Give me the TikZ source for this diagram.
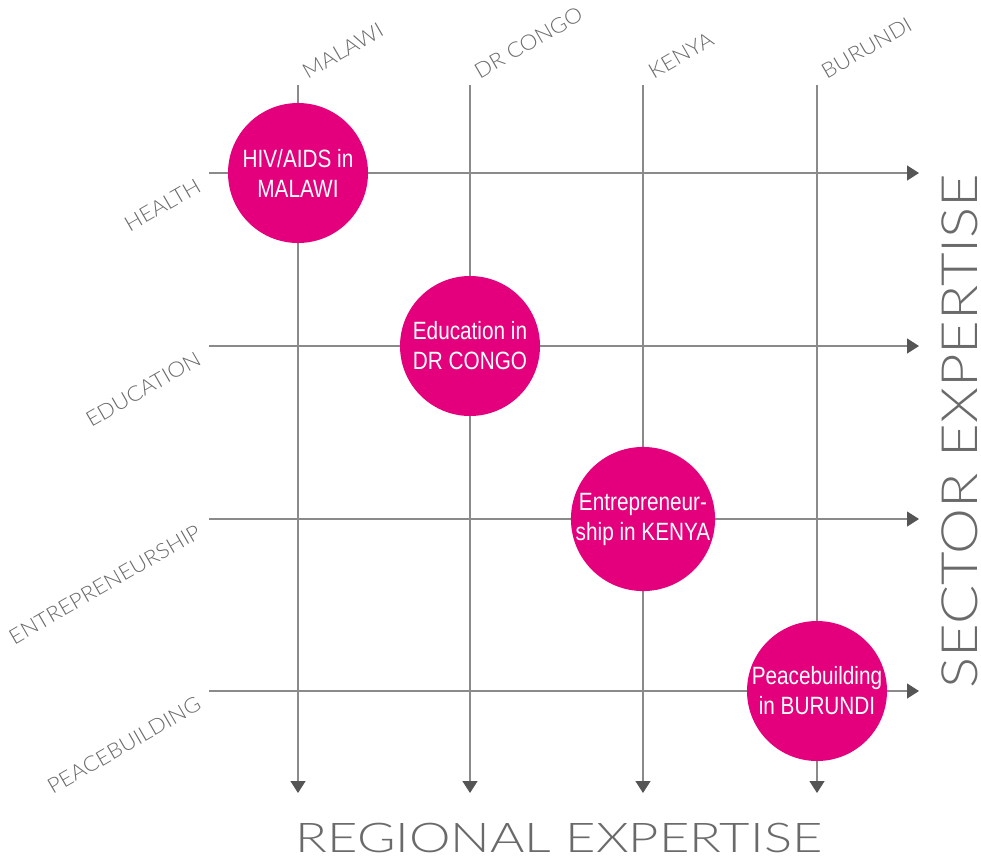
\documentclass[tikz,border=0pt]{standalone}
\usepackage{fontspec}
\setmainfont{Liberation Sans}
\newfontfamily\circfont{Liberation Sans}[FakeStretch=0.83]
\newfontfamily\thinfont{Lato}[UprightFont={* Light},FakeStretch=1.07]
\newfontfamily\regfont{Lato}[UprightFont={* Light},FakeStretch=1.28]
\newfontfamily\secfont{Lato}[UprightFont={* Light},FakeStretch=1.16]
\usetikzlibrary{arrows.meta}
\definecolor{magentab}{HTML}{E4007C}
\definecolor{linegray}{HTML}{8A8A8A}
\definecolor{tipgray}{HTML}{555555}
\definecolor{labelgray}{HTML}{6A6A6A}
\tikzset{
  gridline/.style={draw=linegray, line width=1.3pt, -{Triangle[length=12pt,width=15pt,color=tipgray]}},
  bubble/.style={circle, fill=magentab, minimum size=140pt, inner sep=0pt, text=white, align=center,
    font=\circfont\fontsize{25}{30}\selectfont},
  rowlabel/.style={rotate=30, anchor=east, inner sep=0pt, text=labelgray, font=\thinfont\fontsize{21}{21}\selectfont},
  collabel/.style={rotate=30, anchor=west, inner sep=0pt, text=labelgray, font=\thinfont\fontsize{21}{21}\selectfont},
  title/.style={inner sep=0pt, anchor=base, text=labelgray}
}
\begin{document}
\begin{tikzpicture}[x=1pt,y=-1pt]
\useasboundingbox (0,0) rectangle (981,863);
% column and row coordinates
\foreach \n/\x in {1/298,2/470,3/643,4/817}{
  \coordinate (ctop\n) at (\x,85);
  \coordinate (cbot\n) at (\x,793);
}
\foreach \n/\y in {1/173,2/346,3/519,4/691}{
  \coordinate (rleft\n) at (209,\y);
  \coordinate (rright\n) at (919,\y);
}
\foreach \n in {1,2,3,4}{
  \draw[gridline] (ctop\n) -- (cbot\n);
  \draw[gridline] (rleft\n) -- (rright\n);
}
% bubbles
\node[bubble] (b1) at (298,173) {HIV/AIDS in\\MALAWI};
\node[bubble] (b2) at (470,346) {Education in\\DR CONGO};
\node[bubble] (b3) at (643,519) {Entrepreneur-\\ship in KENYA};
\node[bubble] (b4) at (817,691) {Peacebuilding\\in BURUNDI};
% column labels
\node[collabel] (lmalawi) at (304,73) {MALAWI};
\node[collabel] (lcongo) at (476,73) {DR CONGO};
\node[collabel] (lkenya) at (650,73) {KENYA};
\node[collabel] (lburundi) at (823,73) {BURUNDI};
% row labels
\node[rowlabel] (lhealth) at (199,184) {HEALTH};
\node[rowlabel] (leducation) at (199,357) {EDUCATION};
\node[rowlabel] (lentre) at (199,530) {ENTREPRENEURSHIP};
\node[rowlabel] (lpeace) at (199,702) {PEACEBUILDING};
% titles
\node[title, font=\regfont\fontsize{41}{41}\selectfont] (tregional) at (559,852) {REGIONAL EXPERTISE};
\node[title, rotate=90, font=\secfont\fontsize{50}{50}\selectfont] (tsector) at (977,431) {SECTOR EXPERTISE};
\end{tikzpicture}
\end{document}
